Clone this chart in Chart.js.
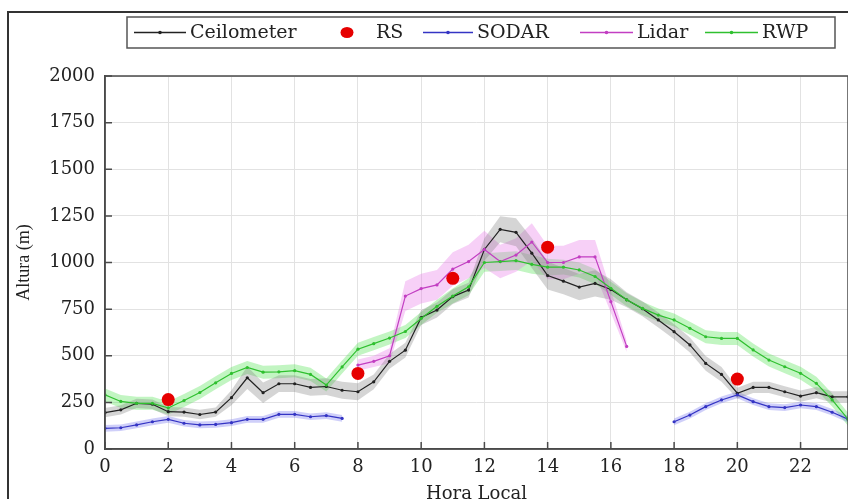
<!DOCTYPE html>
<html>
<head>
<meta charset="utf-8">
<script src="https://cdn.jsdelivr.net/npm/chart.js@4.4.1/dist/chart.umd.min.js"></script>
<style>
html, body { margin: 0; padding: 0; background: #fff; overflow: hidden; }
#wrap { width: 848px; height: 499px; }
canvas { display: block; }
</style>
</head>
<body>
<div id="wrap"><canvas id="c"></canvas></div>
<script>
// hora local (cada media hora)
const hours = [0, 0.5, 1, 1.5, 2, 2.5, 3, 3.5, 4, 4.5, 5, 5.5, 6, 6.5, 7, 7.5,
    8, 8.5, 9, 9.5, 10, 10.5, 11, 11.5, 12, 12.5, 13, 13.5, 14, 14.5, 15, 15.5,
    16, 16.5, 17, 17.5, 18, 18.5, 19, 19.5, 20, 20.5, 21, 21.5, 22, 22.5, 23, 23.5];

const ceilometer = [195, 210, 245, 240, 200, 198, 185, 198, 275, 382, 302, 350, 350, 330, 335, 315,
    307, 360, 470, 530, 705, 745, 817, 852, 1070, 1178, 1162, 1050, 930, 900, 868, 888,
    855, 800, 752, 692, 629, 558, 459, 400, 299, 330, 330, 307, 284, 302, 280, 280];
const ceilometerSd = [25, 25, 25, 25, 25, 25, 25, 25, 40, 60, 55, 45, 45, 45, 45, 45,
    45, 40, 40, 40, 40, 40, 40, 40, 60, 70, 75, 80, 75, 70, 70, 70,
    55, 40, 40, 40, 40, 40, 40, 40, 30, 30, 30, 30, 30, 30, 30, 30];

const sodar = [111, 114, 129, 146, 159, 138, 129, 132, 141, 159, 159, 186, 186, 173, 179, 164,
    null, null, null, null, null, null, null, null, null, null, null, null, null, null, null, null,
    null, null, null, null, 146, 182, 227, 263, 290, 254, 227, 222, 236, 227, 197, 160];
const sodarSd = [18, 18, 18, 18, 18, 18, 18, 18, 18, 18, 18, 18, 18, 18, 18, 18,
    18, 18, 18, 18, 18, 18, 18, 18, 18, 18, 18, 18, 18, 18, 18, 18,
    18, 18, 18, 18, 18, 18, 18, 18, 18, 18, 18, 18, 18, 18, 18, 18];

const lidar = [null, null, null, null, null, null, null, null, null, null, null, null, null, null, null, null,
    450, 470, 500, 820, 860, 880, 965, 1005, 1070, 1005, 1040, 1110, 1000, 1000, 1030, 1030,
    790, 550, null, null, null, null, null, null, null, null, null, null, null, null, null, null];
const lidarSd = [0, 0, 0, 0, 0, 0, 0, 0, 0, 0, 0, 0, 0, 0, 0, 0,
    30, 30, 40, 80, 80, 80, 90, 90, 100, 90, 90, 100, 90, 90, 90, 90,
    60, 30, 0, 0, 0, 0, 0, 0, 0, 0, 0, 0, 0, 0, 0, 0];

const rwp = [290, 255, 245, 245, 220, 260, 303, 355, 405, 437, 412, 414, 420, 400, 343, 440,
    535, 565, 595, 630, 700, 765, 820, 870, 1000, 1005, 1010, 990, 975, 975, 960, 925,
    862, 800, 754, 718, 692, 647, 602, 593, 593, 531, 477, 441, 406, 352, 263, 160];
const rwpSd = [35, 35, 35, 35, 35, 35, 35, 35, 35, 35, 35, 35, 35, 35, 35, 35,
    35, 35, 35, 35, 35, 35, 40, 45, 50, 50, 50, 50, 45, 40, 40, 40,
    35, 35, 35, 35, 35, 35, 35, 35, 35, 35, 35, 35, 35, 35, 35, 35];

// radiosondeos
const rsHours = [2, 8, 11, 14, 20];
const rsHeights = [265, 405, 915, 1082, 375];

const xTicks = [0, 2, 4, 6, 8, 10, 12, 14, 16, 18, 20, 22];
const yTicks = [0, 250, 500, 750, 1000, 1250, 1500, 1750, 2000];

const serif = '"DejaVu Serif", "Liberation Serif", serif';

function points(arr) {
    return hours.map((h, i) => ({ x: h, y: arr[i] }));
}
function bandPoints(arr, sd, sign) {
    return hours.map((h, i) => ({ x: h, y: arr[i] == null ? null : arr[i] + sign * sd[i] }));
}

const series = [
    { name: 'Ceilometer', values: ceilometer, sd: ceilometerSd, line: '#222222', band: 'rgba(125,125,125,0.32)' },
    { name: 'SODAR', values: sodar, sd: sodarSd, line: '#3434c4', band: 'rgba(95,95,235,0.30)' },
    { name: 'Lidar', values: lidar, sd: lidarSd, line: '#c23ec2', band: 'rgba(232,120,232,0.35)' },
    { name: 'RWP', values: rwp, sd: rwpSd, line: '#2fc02f', band: 'rgba(80,225,80,0.35)' }
];

const datasets = [];
series.forEach(s => {
    datasets.push({
        label: s.name + ' sup',
        data: bandPoints(s.values, s.sd, 1),
        borderWidth: 0,
        pointRadius: 0,
        backgroundColor: s.band,
        fill: '+1',
        order: 10
    });
    datasets.push({
        label: s.name + ' inf',
        data: bandPoints(s.values, s.sd, -1),
        borderWidth: 0,
        pointRadius: 0,
        fill: false,
        order: 10
    });
});
series.forEach((s, i) => {
    datasets.push({
        label: s.name,
        data: points(s.values),
        borderColor: s.line,
        backgroundColor: s.line,
        borderWidth: 1.2,
        pointRadius: 1.6,
        pointBorderWidth: 0,
        fill: false,
        order: 5 - i
    });
});
datasets.push({
    label: 'RS',
    data: rsHours.map((h, i) => ({ x: h, y: rsHeights[i] })),
    showLine: false,
    pointRadius: 6.5,
    pointBorderWidth: 0,
    backgroundColor: '#e60000',
    borderColor: '#e60000',
    order: 0
});

// caja, ticks interiores, marco y leyenda
const decoPlugin = {
    id: 'deco',
    afterDraw(chart) {
        const { ctx, chartArea: a, scales: { x, y } } = chart;
        ctx.save();
        ctx.strokeStyle = '#4a4a4a';
        ctx.lineWidth = 1.5;
        ctx.strokeRect(a.left, a.top, a.right - a.left, a.bottom - a.top);
        ctx.beginPath();
        xTicks.forEach(v => {
            const px = x.getPixelForValue(v);
            ctx.moveTo(px, a.bottom);
            ctx.lineTo(px, a.bottom - 7);
        });
        yTicks.forEach(v => {
            const py = y.getPixelForValue(v);
            ctx.moveTo(a.left, py);
            ctx.lineTo(a.left + 7, py);
        });
        ctx.stroke();

        // marco de la figura
        ctx.strokeStyle = '#333';
        ctx.lineWidth = 2;
        ctx.beginPath();
        ctx.moveTo(8, 499);
        ctx.lineTo(8, 12);
        ctx.lineTo(848, 12);
        ctx.stroke();

        // leyenda
        ctx.fillStyle = '#fff';
        ctx.fillRect(127, 17, 708, 31);
        ctx.strokeStyle = '#555';
        ctx.lineWidth = 1.5;
        ctx.strokeRect(127, 17, 708, 31);
        const cy = 32.5;
        const items = [
            { text: 'Ceilometer', color: '#222222', x0: 134, x1: 186, tx: 190 },
            { text: 'RS', color: '#e60000', dot: true, x0: 332, x1: 362, tx: 376 },
            { text: 'SODAR', color: '#3434c4', x0: 423, x1: 473, tx: 477 },
            { text: 'Lidar', color: '#c23ec2', x0: 580, x1: 633, tx: 637 },
            { text: 'RWP', color: '#2fc02f', x0: 705, x1: 758, tx: 762 }
        ];
        ctx.font = '19px ' + serif;
        ctx.textBaseline = 'middle';
        items.forEach(it => {
            const mid = (it.x0 + it.x1) / 2;
            if (it.dot) {
                ctx.fillStyle = it.color;
                ctx.beginPath();
                ctx.ellipse(mid, cy, 6.5, 5.5, 0, 0, Math.PI * 2);
                ctx.fill();
            } else {
                ctx.strokeStyle = it.color;
                ctx.lineWidth = 1.3;
                ctx.beginPath();
                ctx.moveTo(it.x0, cy);
                ctx.lineTo(it.x1, cy);
                ctx.stroke();
                ctx.fillStyle = it.color;
                ctx.beginPath();
                ctx.arc(mid, cy, 1.8, 0, Math.PI * 2);
                ctx.fill();
            }
            ctx.fillStyle = '#222';
            ctx.fillText(it.text, it.tx, cy + 1);
        });
        ctx.restore();
    }
};

new Chart(document.getElementById('c'), {
    type: 'line',
    data: { datasets: datasets },
    options: {
        responsive: true,
        maintainAspectRatio: false,
        animation: false,
        layout: { autoPadding: false, padding: { top: 76, left: 0, right: 0, bottom: 0 } },
        plugins: {
            legend: { display: false },
            tooltip: { enabled: false }
        },
        scales: {
            x: {
                type: 'linear',
                min: 0,
                max: 23.5,
                afterBuildTicks: s => { s.ticks = xTicks.map(v => ({ value: v })); },
                afterFit: s => { s.height = 50; s.paddingLeft = 0; s.paddingRight = 0; },
                ticks: { font: { family: serif, size: 18 }, color: '#222', padding: 8, maxRotation: 0 },
                grid: { color: '#e2e2e2', drawTicks: false },
                border: { color: '#4a4a4a', width: 1.5 },
                title: {
                    display: true,
                    text: 'Hora Local',
                    color: '#222',
                    font: { family: serif, size: 18 },
                    padding: { top: 0, bottom: -6 }
                }
            },
            y: {
                min: 0,
                max: 2000,
                afterBuildTicks: s => { s.ticks = yTicks.map(v => ({ value: v })); },
                afterFit: s => { s.width = 105; s.paddingTop = 0; s.paddingBottom = 0; },
                ticks: {
                    font: { family: serif, size: 18 },
                    color: '#222',
                    padding: 10,
                    callback: v => String(v)
                },
                grid: { color: '#e2e2e2', drawTicks: false },
                border: { color: '#4a4a4a', width: 1.5 },
                title: {
                    display: true,
                    text: 'Altura (m)',
                    color: '#222',
                    font: { family: '"Liberation Serif", serif', size: 18 },
                    padding: { top: 13, bottom: 0 }
                }
            }
        }
    },
    plugins: [decoPlugin]
});
</script>
</body>
</html>
